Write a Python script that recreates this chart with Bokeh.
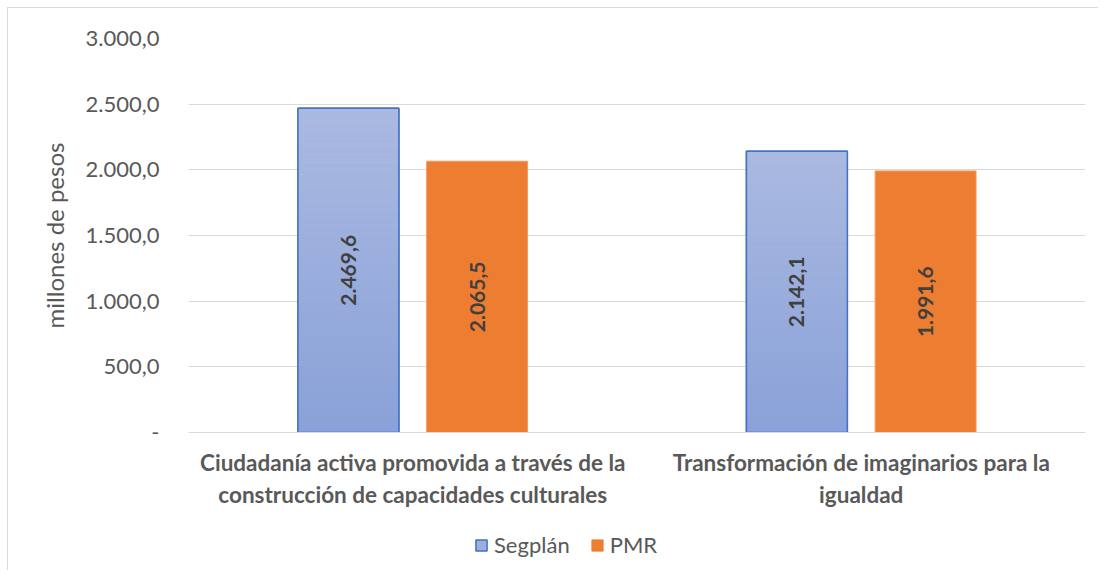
import numpy as np
from bokeh.plotting import figure
from bokeh.layouts import column
from bokeh.core.properties import value
from bokeh.models import (ColumnDataSource, FactorRange, Range1d, FixedTicker, Legend,
                          LegendItem, LabelSet)
from bokeh.transform import dodge
from bokeh.embed import file_html
from bokeh.resources import INLINE

# ---- data ----
categories = ["Ciudadanía activa promovida a través de la\nconstrucción de capacidades culturales",
              "Transformación de imaginarios para la\nigualdad"]
series = ["Segplán", "PMR"]
segplan = [2469.6, 2142.1]
pmr = [2065.5, 1991.6]
y_ticks = [0, 500, 1000, 1500, 2000, 2500, 3000]
y_tick_labels = ["-", "500,0", "1.000,0", "1.500,0", "2.000,0", "2.500,0", "3.000,0"]
y_title = "millones de pesos"


def fmt(v):
    s = f"{v:,.1f}"
    return s.replace(",", "X").replace(".", ",").replace("X", ".")


FONT = "Lato"
GREY = "#595959"
BLUE_FILL = "#9caedd"
BLUE_LINE = "#4472c4"
ORANGE = "#ed7d31"
ORANGE_LINE = "#f29a5e"

p = figure(width=1090, height=512, x_range=FactorRange(*categories, range_padding=0, factor_padding=0),
           y_range=Range1d(0, 3000), output_backend="svg", toolbar_location=None,
           min_border_left=180, min_border_right=13, min_border_top=30, min_border_bottom=88)
p.outline_line_color = None
p.background_fill_color = "white"

OFF = 0.1435
W = 0.225

src = ColumnDataSource(dict(cat=categories, seg=segplan, pmr=pmr,
                            seg_half=[v / 2 for v in segplan], pmr_half=[v / 2 for v in pmr],
                            seg_lbl=[fmt(v) for v in segplan], pmr_lbl=[fmt(v) for v in pmr]))

p.vbar(x=dodge("cat", -OFF, range=p.x_range), top="seg", width=W, source=src,
       fill_color=BLUE_FILL, line_color=BLUE_LINE, line_width=1.5)
# gradient overlay for Segplán bars
N = 40
c_bot = np.array([0x8a, 0xa2, 0xd9])
c_top = np.array([0xab, 0xba, 0xe1])
gx, gb, gt, gc = [], [], [], []
for cat, v in zip(categories, segplan):
    for i in range(N):
        f = (i + 0.5) / N
        c = (c_bot + (c_top - c_bot) * f).astype(int)
        gx.append(cat)
        gb.append(v * i / N)
        gt.append(v * (i + 1) / N)
        gc.append("#%02x%02x%02x" % tuple(c))
gsrc = ColumnDataSource(dict(cat=gx, bottom=gb, top=gt, color=gc))
p.vbar(x=dodge("cat", -OFF, range=p.x_range), bottom="bottom", top="top", width=W, source=gsrc,
       fill_color="color", line_color="color", line_width=0.5)
p.vbar(x=dodge("cat", -OFF, range=p.x_range), top="seg", width=W, source=src,
       fill_alpha=0, line_color=BLUE_LINE, line_width=1.5)

p.vbar(x=dodge("cat", OFF, range=p.x_range), top="pmr", width=W, source=src,
       fill_color=ORANGE, line_color=ORANGE_LINE, line_width=1)

for col, lbl, off in [("seg_half", "seg_lbl", -OFF), ("pmr_half", "pmr_lbl", OFF)]:
    p.add_layout(LabelSet(x=dodge("cat", off, range=p.x_range), y=col, text=lbl, source=src,
                          angle=np.pi / 2, text_align="center", text_baseline="middle",
                          text_font=value(FONT), text_font_size="21px", text_font_style="bold",
                          text_color="#404040"))

# axes
p.yaxis.ticker = FixedTicker(ticks=y_ticks)
p.yaxis.major_label_overrides = {t: l for t, l in zip(y_ticks, y_tick_labels)}
p.yaxis.axis_line_color = None
p.yaxis.major_tick_line_color = None
p.yaxis.minor_tick_line_color = None
p.yaxis.major_label_standoff = 23
p.yaxis.major_label_text_font = FONT
p.yaxis.major_label_text_font_size = "22px"
p.yaxis.major_label_text_color = GREY
p.yaxis.axis_label = y_title
p.yaxis.axis_label_text_font = FONT
p.yaxis.axis_label_text_font_size = "24px"
p.yaxis.axis_label_text_font_style = "normal"
p.yaxis.axis_label_text_color = GREY
p.yaxis.axis_label_standoff = 14

p.xaxis.axis_line_color = "#d9d9d9"
p.xaxis.axis_line_width = 1
p.xaxis.major_tick_line_color = None
p.xaxis.minor_tick_line_color = None
p.xaxis.major_label_standoff = 10
p.xaxis.major_label_text_font = FONT
p.xaxis.major_label_text_font_size = "22.5px"
p.xaxis.major_label_text_font_style = "bold"
p.xaxis.major_label_text_color = GREY

p.xgrid.grid_line_color = None
p.ygrid.grid_line_color = "#d9d9d9"
p.ygrid.grid_line_width = 1

# ---- legend strip ----
lp = figure(width=1090, height=50, x_range=(0, 1), y_range=(0, 1), output_backend="svg",
            toolbar_location=None, x_axis_location=None, y_axis_location=None,
            min_border_left=0, min_border_right=0, min_border_top=0, min_border_bottom=0)
lp.grid.visible = False
lp.outline_line_color = None
offscreen = ColumnDataSource(dict(x=[-10], top=[-10]))
l_seg = lp.vbar(x="x", top="top", width=0.1, source=offscreen,
                fill_color=BLUE_FILL, line_color=BLUE_LINE, line_width=1.5)
l_pmr = lp.vbar(x="x", top="top", width=0.1, source=offscreen,
                fill_color=ORANGE, line_color=ORANGE, line_width=1)
legend = Legend(items=[LegendItem(label=series[0], renderers=[l_seg]),
                       LegendItem(label=series[1], renderers=[l_pmr])],
                orientation="horizontal", location=(286, 12),
                label_text_font=FONT, label_text_font_size="22px", label_text_color=GREY,
                glyph_width=14, glyph_height=14, label_standoff=6, spacing=20,
                border_line_color=None, background_fill_alpha=0, margin=0, padding=4)
lp.add_layout(legend, "center")

layout = column(p, lp, spacing=0,
                styles={"margin-left": "7px", "margin-top": "7px",
                        "border-left": "1px solid #d9d9d9", "border-top": "1px solid #d9d9d9"})

open("out.html", "w").write(file_html(layout, INLINE))
